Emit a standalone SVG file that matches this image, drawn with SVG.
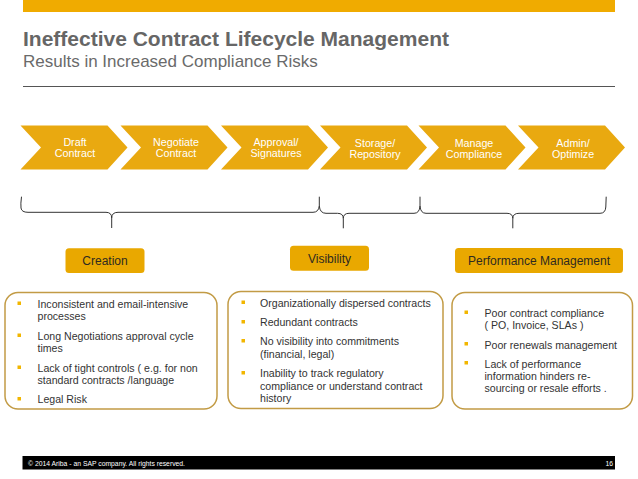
<svg xmlns="http://www.w3.org/2000/svg" width="638" height="479" viewBox="0 0 638 479">
<style>
.chev{fill:#E9A910}
.ct{font-family:"Liberation Sans",Arial,sans-serif;font-size:10.7px;fill:#ffffff;text-anchor:middle}
.lbl{fill:#E9A800}
.lt{font-family:"Liberation Sans",Arial,sans-serif;font-size:12px;fill:#2e2a20;text-anchor:middle}
.box{fill:#ffffff;stroke:#C29B45;stroke-width:1.5}
.bt{font-family:"Liberation Sans",Arial,sans-serif;font-size:10.6px;fill:#333333}
.bul{fill:#F2B600}
.brace{fill:none;stroke:#333333;stroke-width:1}
</style>
<rect width="638" height="479" fill="#ffffff"/>
<g id="header">
<rect x="23" y="0" width="592" height="12" fill="#F0AB00"/>
<text x="23" y="46" font-family="Liberation Sans,Arial,sans-serif" font-size="21" font-weight="bold" fill="#666666">Ineffective Contract Lifecycle Management</text>
<text x="23" y="67" font-family="Liberation Sans,Arial,sans-serif" font-size="17" fill="#6a6a6a">Results in Increased Compliance Risks</text>
<line x1="23" y1="86.5" x2="615" y2="86.5" stroke="#555555" stroke-width="1"/>
</g>
<g id="step-draft">
<polygon class="chev" points="20.5,125.5 107.5,125.5 127.5,147.5 107.5,169.5 20.5,169.5 41,147.5"/>
<text class="ct" x="75" y="146">Draft</text><text class="ct" x="75" y="157">Contract</text>
</g>
<g id="step-negotiate">
<polygon class="chev" points="120.5,125.5 207.5,125.5 227.5,147.5 207.5,169.5 120.5,169.5 141,147.5"/>
<text class="ct" x="176" y="146">Negotiate</text><text class="ct" x="176" y="157">Contract</text>
</g>
<g id="step-approval">
<polygon class="chev" points="221,125.5 308,125.5 328,147.5 308,169.5 221,169.5 241.5,147.5"/>
<text class="ct" x="276" y="146">Approval/</text><text class="ct" x="276" y="157">Signatures</text>
</g>
<g id="step-storage">
<polygon class="chev" points="320,125.5 407,125.5 427,147.5 407,169.5 320,169.5 340.5,147.5"/>
<text class="ct" x="375" y="146.5">Storage/</text><text class="ct" x="375" y="157.5">Repository</text>
</g>
<g id="step-manage">
<polygon class="chev" points="418.5,125.5 505.5,125.5 525.5,147.5 505.5,169.5 418.5,169.5 439,147.5"/>
<text class="ct" x="474" y="146.5">Manage</text><text class="ct" x="474" y="157.5">Compliance</text>
</g>
<g id="step-admin">
<polygon class="chev" points="518,125.5 605,125.5 625,147.5 605,169.5 518,169.5 538.5,147.5"/>
<text class="ct" x="573" y="146.5">Admin/</text><text class="ct" x="573" y="157.5">Optimize</text>
</g>
<g id="connectors">
<path class="brace" d="M21.5,196.7 Q20.5,204 21,208 Q21.5,212.3 28,212.3 L106,212.3 Q111.7,212.3 111.7,218 L111.7,228 M111.7,218 Q111.7,212.3 118,212.3 L313,212.3 Q318.5,212.3 319.3,206 L319.3,196.7"/>
<path class="brace" d="M319.3,206 Q320,213.3 326,213.3 L337.5,213.3 Q343.3,213.3 343.3,218.5 L343.3,228.3 M343.3,218.5 Q343.3,213.3 349,213.3 L414,213.3 Q419.5,213.3 420,206 L420,196.7"/>
<path class="brace" d="M420,206 Q420.5,213.3 426,213.3 L507,213.3 Q512.8,213.3 512.8,218.5 L512.8,228.3 M512.8,218.5 Q512.8,213.3 519,213.3 L600,213.3 Q605.5,213.3 605.8,207 L606.2,196.7"/>
</g>
<g id="label-creation">
<rect class="lbl" x="65.5" y="248.3" width="79" height="24.7" rx="3.5"/>
<text class="lt" x="105" y="265">Creation</text>
</g>
<g id="label-visibility">
<rect class="lbl" x="290" y="245.7" width="79" height="25" rx="3.5"/>
<text class="lt" x="329.5" y="263">Visibility</text>
</g>
<g id="label-performance">
<rect class="lbl" x="455" y="248" width="168" height="25" rx="3.5"/>
<text class="lt" x="539" y="265">Performance  Management</text>
</g>
<g id="box-creation">
<rect class="box" x="5" y="292.5" width="212" height="116.5" rx="13"/>
<rect class="bul" x="17.5" y="301.5" width="3.5" height="3.5"/>
<rect class="bul" x="17.5" y="333.5" width="3.5" height="3.5"/>
<rect class="bul" x="17.5" y="365.5" width="3.5" height="3.5"/>
<rect class="bul" x="17.5" y="397" width="3.5" height="3.5"/>
<text class="bt" x="37.5" y="307.5">Inconsistent and email-intensive</text>
<text class="bt" x="37.5" y="319.5">processes</text>
<text class="bt" x="37.5" y="339.5">Long Negotiations approval cycle</text>
<text class="bt" x="37.5" y="351.5">times</text>
<text class="bt" x="37.5" y="371.5">Lack of tight controls ( e.g. for non</text>
<text class="bt" x="37.5" y="383.5">standard contracts /language</text>
<text class="bt" x="37.5" y="403">Legal Risk</text>
</g>
<g id="box-visibility">
<rect class="box" x="228" y="291.5" width="215" height="117" rx="13"/>
<rect class="bul" x="241.5" y="300.5" width="3.5" height="3.5"/>
<rect class="bul" x="241.5" y="320" width="3.5" height="3.5"/>
<rect class="bul" x="241.5" y="339" width="3.5" height="3.5"/>
<rect class="bul" x="241.5" y="371" width="3.5" height="3.5"/>
<text class="bt" x="260" y="306.5">Organizationally dispersed contracts</text>
<text class="bt" x="260" y="326">Redundant contracts</text>
<text class="bt" x="260" y="345">No visibility into commitments</text>
<text class="bt" x="260" y="357.5">(financial, legal)</text>
<text class="bt" x="260" y="377">Inability to track regulatory</text>
<text class="bt" x="260" y="389.5">compliance or understand contract</text>
<text class="bt" x="260" y="402">history</text>
</g>
<g id="box-performance">
<rect class="box" x="452" y="292.5" width="180.5" height="116.5" rx="13"/>
<rect class="bul" x="464.5" y="310.5" width="3.5" height="3.5"/>
<rect class="bul" x="464.5" y="342" width="3.5" height="3.5"/>
<rect class="bul" x="464.5" y="361" width="3.5" height="3.5"/>
<text class="bt" x="484.5" y="316.5">Poor contract compliance</text>
<text class="bt" x="484.5" y="328.5">( PO, Invoice, SLAs )</text>
<text class="bt" x="484.5" y="348.5">Poor renewals management</text>
<text class="bt" x="484.5" y="367.5">Lack of performance</text>
<text class="bt" x="484.5" y="379.5">information hinders re-</text>
<text class="bt" x="484.5" y="392">sourcing or resale efforts .</text>
</g>
<g id="footer">
<rect x="22.5" y="456" width="592.5" height="13.5" fill="#000000"/>
<text x="28" y="465.5" font-family="Liberation Sans,Arial,sans-serif" font-size="6.8" fill="#ffffff">© 2014 Ariba - an SAP company. All rights reserved.</text>
<text x="613" y="465.5" font-family="Liberation Sans,Arial,sans-serif" font-size="6.8" fill="#ffffff" text-anchor="end">16</text>
</g>
</svg>
